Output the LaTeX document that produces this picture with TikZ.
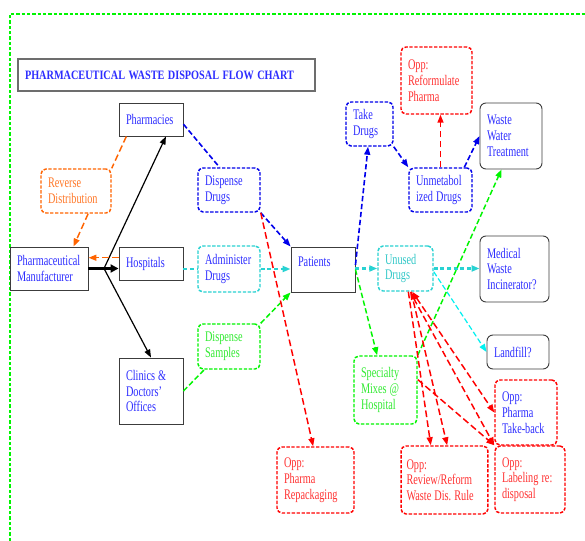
\documentclass[tikz,border=0pt]{standalone}
\usepackage{fontspec}
\setmainfont[FakeStretch=0.7]{Liberation Serif}
\newfontfamily\titlefont[FakeStretch=0.8]{Liberation Serif}
\usetikzlibrary{arrows.meta,calc}
\DeclareRobustCommand\myBodyFont{\fontsize{11}{11.8}\selectfont}
\DeclareRobustCommand\myTitleFont{\titlefont\fontsize{9.6}{11}\selectfont\bfseries}
\definecolor{tblue}{RGB}{45,45,255}
\definecolor{lblue}{RGB}{0,0,235}
\definecolor{tred}{RGB}{255,50,50}
\definecolor{lred}{RGB}{255,0,0}
\definecolor{tgreen}{RGB}{50,235,50}
\definecolor{lgreen}{RGB}{0,245,0}
\definecolor{tcyan}{RGB}{50,200,200}
\definecolor{lcyan}{RGB}{40,210,210}
\definecolor{bcyan}{RGB}{0,240,240}
\definecolor{torange}{RGB}{255,120,40}
\definecolor{lorange}{RGB}{255,100,0}
\definecolor{boxgray}{RGB}{60,60,60}
\begin{document}
\frenchspacing
\begin{tikzpicture}[x=0.75pt,y=-0.75pt,
  >={Triangle[length=6pt,width=4.5pt]},
  txt/.style={font=\myBodyFont,execute at begin node={\spaceskip=2.3pt plus 1pt minus 0.5pt\xspaceskip=2.3pt\relax}},
  box/.style={txt,draw=boxgray,line width=0.7pt,align=left,inner xsep=5.25pt,inner ysep=0pt,text=tblue},
  rbox/.style={box,rounded corners=4.5pt},
  dbox/.style={txt,rounded corners=3.75pt,line width=1.1pt,dash pattern=on 2.5pt off 1.2pt,align=left,inner xsep=5.25pt,inner ysep=0pt},
  sz/.style 2 args={text width=#1pt,minimum height=#2pt},
  blk/.style={draw=black,line width=0.9pt},
  oline/.style={draw=lorange,line width=1.1pt,dash pattern=on 5pt off 2.5pt},
  bline/.style={draw=lblue,line width=1.2pt,dash pattern=on 4pt off 2pt},
  cline/.style={draw=lcyan,line width=2pt,dash pattern=on 3pt off 2pt},
  fline/.style={draw=bcyan,line width=0.9pt,dash pattern=on 4pt off 2pt},
  rline/.style={draw=lred,line width=1.1pt,dash pattern=on 5pt off 2.5pt},
  gline/.style={draw=lgreen,line width=1.1pt,dash pattern=on 4pt off 2pt}
]
\useasboundingbox (0,0) rectangle (585,541);
\fill[white] (0,0) rectangle (585,541);
% outer frame
\draw[draw=lgreen,line width=0.9pt,dash pattern=on 2.5pt off 1.5pt] (10,541) -- (10,14) -- (585,14);

% title
\node[draw=boxgray!75,line width=1.1pt,text width=212.25pt,align=left,minimum height=24pt,inner xsep=5.25pt,inner ysep=0pt,text=tblue,font=\myTitleFont,execute at begin node={\spaceskip=2.6pt\relax}] (title) at (166.5,75) {PHARMACEUTICAL WASTE DISPOSAL FLOW CHART};

% black boxes
\node[box,sz={37.5}{24.75}] (pharm) at (151,119.5) {Pharmacies};
\node[box,sz={48}{32.25}] (manu) at (49,268.5) {Pharmaceutical\\Manufacturer};
\node[box,sz={37.5}{24.75}] (hosp) at (151,263.5) {Hospitals};
\node[box,sz={37.5}{49.5}] (clinics) at (151,391) {Clinics \&\\Doctors'\\Offices};
\node[box,sz={37.5}{33.75}] (patients) at (323,269.5) {Patients\\\mbox{}};
\node[rbox,sz={41.25}{49.5}] (incin) at (514.5,269) {Medical\\Waste\\Incinerator?};
\node[rbox,sz={36}{25.5}] (landfill) at (518,352) {Landfill?};
\node[rbox,sz={36}{49.5}] (wwt) at (511,136) {Waste\\Water\\Treatment};

% dashed boxes
\node[dbox,draw=lorange,text=torange,sz={42}{33}] (revd) at (76,191) {Reverse\\Distribution};
\node[dbox,draw=lblue,text=tblue,sz={36}{33}] (dispd) at (229,190) {Dispense\\Drugs};
\node[dbox,draw=lcyan,text=tblue,sz={36}{34.5}] (admin) at (229,269) {Administer\\Drugs};
\node[dbox,draw=lgreen,text=tgreen,sz={36}{33.75}] (samples) at (229,346.5) {Dispense\\Samples};
\node[dbox,draw=lred,text=tred,sz={47.25}{49.5}] (repack) at (315.5,480) {Opp:\\Pharma\\Repackaging};
\node[dbox,draw=lcyan,text=tcyan,sz={30.75}{33.75}] (unused) at (405.5,268.5) {Unused\\Drugs};
\node[dbox,draw=lgreen,text=tgreen,sz={36.75}{51}] (special) at (385.5,390) {Specialty\\Mixes @\\Hospital};
\node[dbox,draw=lred,text=tblue,sz={36}{48.75}] (takeback) at (526,412.5) {Opp:\\Pharma\\Take-back};
\node[dbox,draw=lred,text=tred,sz={57}{51},inner xsep=4.1pt] (review) at (444.5,480) {Opp:\\Review/Reform\\Waste Dis. Rule};
\node[dbox,draw=lred,text=tred,sz={42}{50.25}] (label) at (530,479.5) {Opp:\\Labeling re:\\disposal};
\node[dbox,draw=lblue,text=tblue,sz={24.75}{33}] (take) at (369.5,124) {Take\\Drugs};
\node[dbox,draw=lred,text=tred,sz={42.75}{50.25}] (reform) at (436.5,80.5) {Opp:\\Reformulate\\Pharma};
\node[dbox,draw=lblue,text=tblue,sz={36.75}{33}] (unmet) at (440.5,190) {Unmetabol\\ized Drugs};

% black distribution arrows
\coordinate (jn) at (104,268.5);
\draw[blk,line width=2.2pt,-{Triangle[length=6pt,width=6pt]}] (manu.east) -- (manu.east -| hosp.west);
\draw[blk,->] (jn) -- ($(pharm.south west)!0.73!(pharm.south east)$);
\draw[blk,->] (jn) -- (clinics.north);

% orange
\coordinate (o1) at ($(hosp.north west)!0.33!(hosp.south west)$);
\draw[oline,->] (o1) -- (o1 -| manu.east);
\draw[oline] ($(pharm.south west)!0.12!(pharm.south east)$) -- (revd.north east);
\draw[oline,->] ($(revd.south west)!0.67!(revd.south east)$) -- ($(manu.north west)!0.81!(manu.north east)$);

% blue
\draw[bline] ($(pharm.north east)!0.64!(pharm.south east)$) -- ($(dispd.north west)!0.35!(dispd.north east)$);
\draw[bline,->] (dispd.south east) -- (patients.north west);
\draw[bline,->] ($(patients.north east)!0.4!(patients.south east)$) -- ($(take.south west)!0.47!(take.south east)$);
\draw[bline,->] (take.south east) -- (unmet.north west);
\draw[bline,->] ($(unmet.north west)!0.87!(unmet.north east)$) -- (wwt.west);

% cyan
\draw[cline] (admin.west -| hosp.east) -- (admin.west);
\draw[cline,->] (admin.east) -- (admin.east -| patients.west);
\draw[cline,->] (unused.west -| patients.east) -- (unused.west);
\draw[cline,->] (unused.east) -- (unused.east -| incin.west);
\draw[fline,->] ($(unused.north east)!0.57!(unused.south east)$) -- (landfill.west);

% green
\draw[gline] (clinics.east) -- ($(samples.south west)!0.11!(samples.south east)$);
\draw[gline,->] (samples.north east) -- (patients.south west);
\draw[gline,->] (patients.east) -- ($(special.north west)!0.37!(special.north east)$);
\draw[gline,->] (special.north east) -- ($(wwt.south west)!0.35!(wwt.south east)$);

% red
\draw[rline,->] (dispd.south east) -- ($(repack.north west)!0.47!(repack.north east)$);
\draw[rline,->] (unmet.north) -- (unmet.north |- reform.south);
\draw[rline,->] ($(unused.south west)!0.55!(unused.south east)$) -- ($(review.north west)!0.345!(review.north east)$);
\draw[rline,->] ($(unused.south west)!0.6!(unused.south east)$) -- ($(review.north west)!0.53!(review.north east)$);
\draw[rline,<->] ($(unused.south west)!0.62!(unused.south east)$) -- ($(takeback.north west)!0.5!(takeback.south west)$);
\draw[rline,<->] ($(unused.south west)!0.58!(unused.south east)$) -- (label.north west);
\draw[rline,->] ($(special.north east)!0.35!(special.south east)$) -- (label.north west);
\end{tikzpicture}
\end{document}
